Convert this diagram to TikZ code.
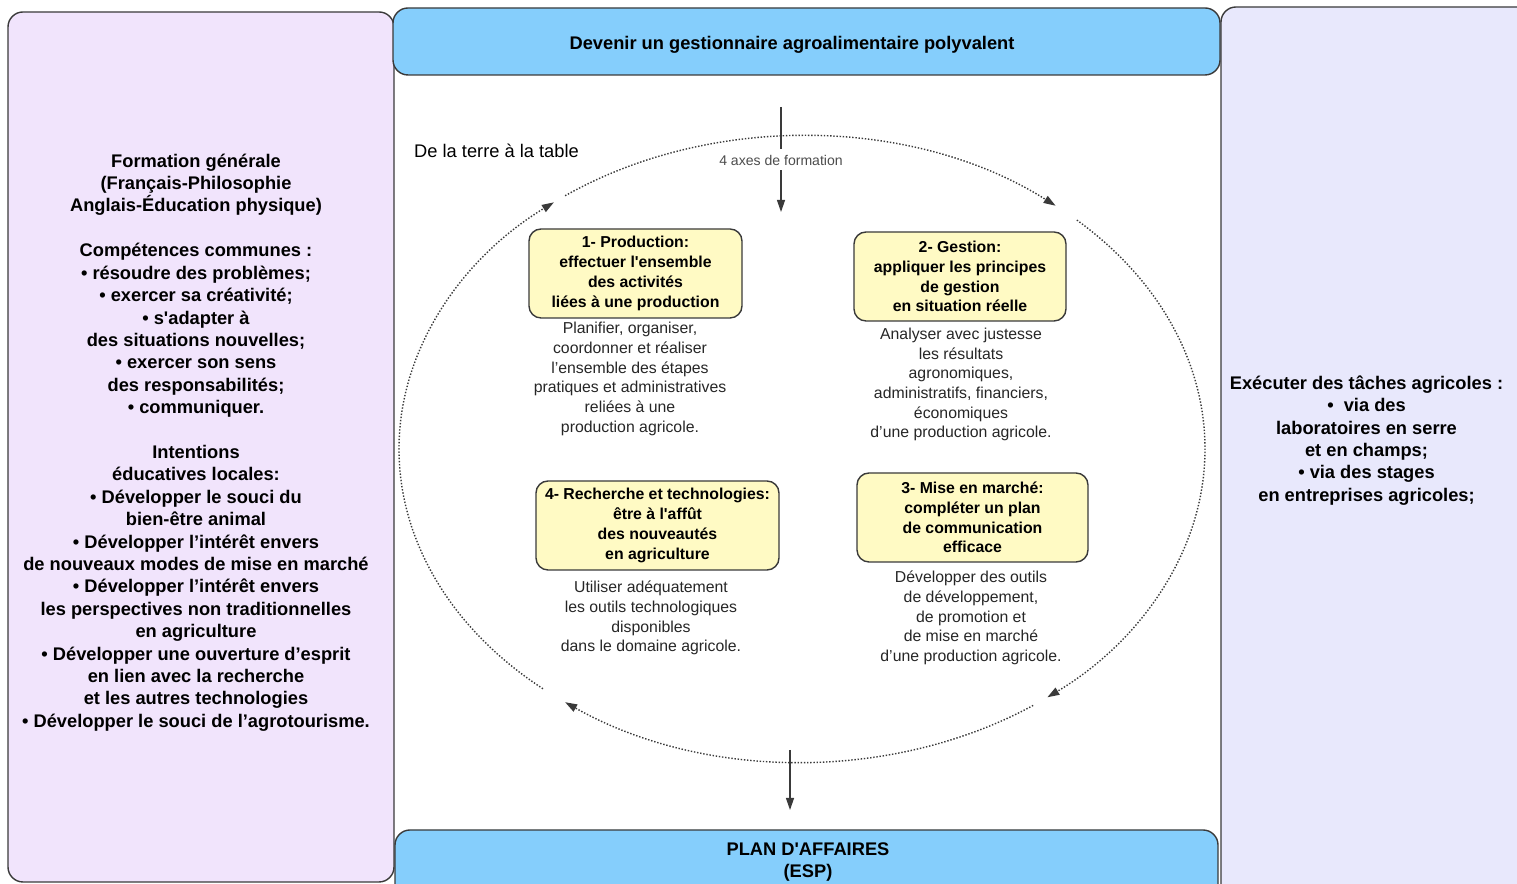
\documentclass[tikz,border=0pt]{standalone}
\usepackage{fontspec}
\setmainfont{Liberation Sans}
\usetikzlibrary{arrows.meta}

\definecolor{lilas}{HTML}{F1E4FC}
\definecolor{pervenche}{HTML}{E8E8FC}
\definecolor{ciel}{HTML}{85CEFC}
\definecolor{paille}{HTML}{FFFAC4}
\definecolor{trait}{HTML}{3A3A3A}
\newcommand{\sq}{\textquotesingle}

\begin{document}
\begin{tikzpicture}[inner sep=0.3mm, >={Triangle[length=2.4mm,width=1.6mm]},
  panel/.style={draw=trait, line width=0.8pt, rounded corners=3mm},
  axe/.style={draw=trait, line width=0.8pt, fill=paille, rounded corners=2.4mm, minimum height=1.78cm, align=center, font=\bfseries\fontsize{9}{11.3}\selectfont},
  desc/.style={align=center, text=black!85, font=\fontsize{9}{11.2}\selectfont},
  gros/.style={align=center, font=\bfseries\fontsize{10.4}{12.75}\selectfont},
  boucle/.style={densely dotted, draw=trait, line width=0.8pt, ->},
  fleche/.style={draw=trait, line width=0.7pt}]

\useasboundingbox (0,0) rectangle (30.34,17.68);
\clip (0,0) rectangle (30.34,17.68);

\draw[panel, fill=lilas] (0.16,0.04) rectangle (7.88,17.44);
\draw[panel, fill=pervenche] (24.42,-1) rectangle (31.5,17.54);
\draw[panel, fill=ciel] (7.86,16.18) rectangle (24.40,17.52);
\draw[panel, fill=ciel] (7.90,-1) rectangle (24.36,1.08);

\node[gros](titre) at (15.84,16.78) {Devenir un gestionnaire agroalimentaire polyvalent};
\node[gros, font=\bfseries\fontsize{10.4}{13}\selectfont](plan) at (16.16,0.44) {PLAN D\sq AFFAIRES\\(ESP)};

\node[gros](gauche) at (3.92,8.83) {Formation générale\\(Français-Philosophie\\Anglais-Éducation physique)\\[12.75pt]
Compétences communes :\\• résoudre des problèmes;\\• exercer sa créativité;\\• s\sq adapter à\\des situations nouvelles;\\• exercer son sens\\des responsabilités;\\• communiquer.\\[12.75pt]
Intentions\\éducatives locales:\\• Développer le souci du\\bien-être animal\\• Développer l’intérêt envers\\de nouveaux modes de mise en marché\\• Développer l’intérêt envers\\les perspectives non traditionnelles\\en agriculture\\• Développer une ouverture d’esprit\\en lien avec la recherche\\et les autres technologies\\• Développer le souci de l’agrotourisme.};

\node[gros](droite) at (27.33,8.87) {Exécuter des tâches agricoles :\\•\ \ via des\\laboratoires en serre\\et en champs;\\• via des stages\\en entreprises agricoles;};

\node[font=\fontsize{10.4}{12.7}\selectfont](terre) at (9.93,14.66) {De la terre à la table};

% le cycle
\coordinate(c) at (16.04,8.70);
\draw[boucle] (c) ++(230:8.06cm and 6.26cm) arc[start angle=230, end angle=128, x radius=8.06cm, y radius=6.26cm];
\draw[boucle] (c) ++(126:8.06cm and 6.26cm) arc[start angle=126, end angle=51, x radius=8.06cm, y radius=6.26cm];
\draw[boucle] (c) ++(47:8.06cm and 6.26cm) arc[start angle=47, end angle=-52.5, x radius=8.06cm, y radius=6.26cm];
\draw[boucle] (c) ++(-55:8.06cm and 6.26cm) arc[start angle=-55, end angle=-126, x radius=8.06cm, y radius=6.26cm];

\coordinate(axhaut) at (15.62,15.54);
\node[text=black!70, font=\fontsize{8}{10}\selectfont, inner sep=1mm](axes) at (15.62,14.48) {4 axes de formation};
\coordinate(axbas) at (15.62,13.44);
\draw[fleche] (axhaut) -- (axes);
\draw[fleche, ->] (axes) -- (axbas);

\coordinate(plhaut) at (15.8,2.68);
\coordinate(plbas) at (15.8,1.48);
\draw[fleche, ->] (plhaut) -- (plbas);

\node[axe, minimum width=4.26cm](ax1) at (12.71,12.21) {1- Production:\\effectuer l\sq ensemble\\des activités\\liées à une production};
\node[axe, minimum width=4.24cm](ax2) at (19.2,12.15) {2- Gestion:\\appliquer les principes\\de gestion\\en situation réelle};
\node[axe, minimum width=4.62cm](ax3) at (19.45,7.33) {3- Mise en marché:\\compléter un plan\\de communication\\efficace};
\node[axe, minimum width=4.86cm](ax4) at (13.15,7.17) {4- Recherche et technologies:\\être à l\sq affût\\des nouveautés\\en agriculture};

\node[desc](d1) at (12.6,10.10) {Planifier, organiser,\\coordonner et réaliser\\l’ensemble des étapes\\pratiques et administratives\\reliées à une\\production agricole.};
\node[desc](d2) at (19.22,9.99) {Analyser avec justesse\\les résultats\\agronomiques,\\administratifs, financiers,\\économiques\\d’une production agricole.};
\node[desc](d3) at (19.42,5.32) {Développer des outils\\de développement,\\de promotion et\\de mise en marché\\d’une production agricole.};
\node[desc](d4) at (13.02,5.32) {Utiliser adéquatement\\les outils technologiques\\disponibles\\dans le domaine agricole.};

\end{tikzpicture}
\end{document}
